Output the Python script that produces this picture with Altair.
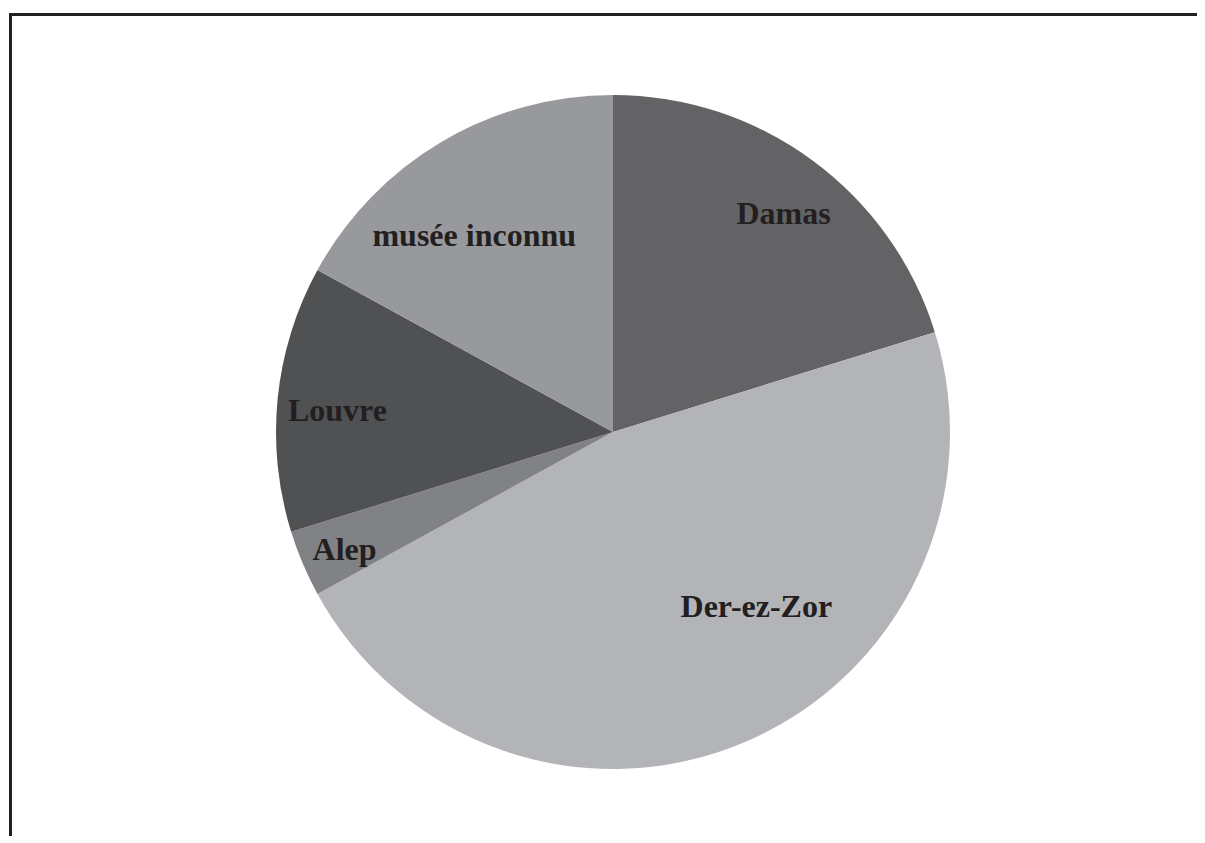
import altair as alt
import pandas as pd

# Data (clockwise from 12 o'clock)
lieux = ["Damas", "Der-ez-Zor", "Alep", "Louvre", "musée inconnu"]
effectifs = [19, 44, 3, 12, 16]
couleurs = ["#636365", "#b3b4b7", "#818285", "#505153", "#98999c"]

df = pd.DataFrame({"lieu": lieux, "n": effectifs, "ordre": list(range(len(lieux)))})

W, H = 1189, 828
CX, CY = 605, 424
R = 337
INK = "#231f20"

base = alt.Chart(df).encode(
    theta=alt.Theta("n:Q", stack=True),
    order=alt.Order("ordre:Q"),
    x=alt.value(CX),
    y=alt.value(CY),
)

pie = base.mark_arc(outerRadius=R).encode(
    color=alt.Color("lieu:N", scale=alt.Scale(domain=lieux, range=couleurs), legend=None)
)

# label placement style per slice: (radius, dx, dy)
label_style = {
    "Damas": (269, 11, 9),
    "Der-ez-Zor": (234, 52, -30),
    "Alep": (297, 5, 12),
    "Louvre": (276, -1, 17),
    "musée inconnu": (233, -20, 14),
}

labels = []
for name in lieux:
    r, dx, dy = label_style[name]
    labels.append(
        base.mark_text(
            radius=r, dx=dx, dy=dy,
            font="Liberation Serif", fontSize=32, fontWeight="bold",
            color=INK, align="center", baseline="alphabetic",
        ).encode(text=alt.condition(alt.datum.lieu == name, "lieu:N", alt.value("")))
    )

frame_df = pd.DataFrame({"k": [0]})
top_rule = alt.Chart(frame_df).mark_rule(color=INK, strokeWidth=3).encode(
    x=alt.value(1), x2=alt.value(W), y=alt.value(6.5)
)
left_rule = alt.Chart(frame_df).mark_rule(color=INK, strokeWidth=3).encode(
    x=alt.value(2.5), y=alt.value(5), y2=alt.value(H)
)

chart = alt.layer(pie, *labels, top_rule, left_rule).properties(
    width=W, height=H, padding=0, autosize=alt.AutoSizeParams(type="none"),
    background="white",
).configure_view(stroke=None)

chart.save("out.html", embed_options={"renderer": "svg", "actions": False})
